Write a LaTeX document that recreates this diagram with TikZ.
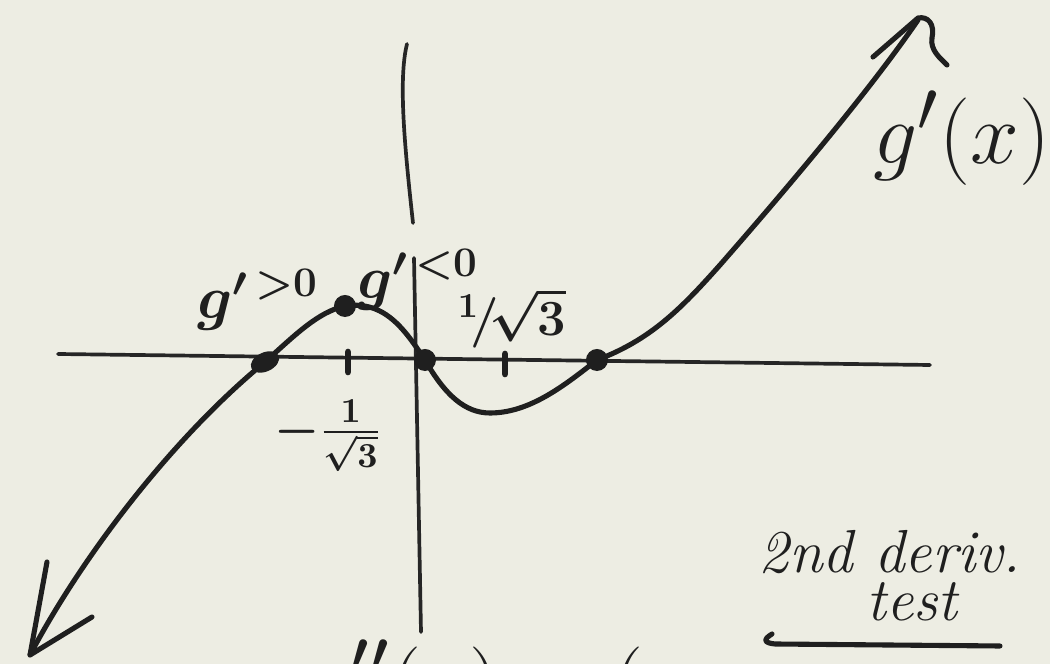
\documentclass[tikz,border=0pt]{standalone}
\usepackage{amsmath}
\usepackage{fontspec}
\usetikzlibrary{shapes.geometric}
\begin{document}
\begin{tikzpicture}[x=0.01cm,y=-0.01cm,
  ink/.style={line width=1.45pt,line cap=round,line join=round,color=black!88},
  thin/.style={line width=1.05pt,line cap=round,color=black!85},
  dotmark/.style={circle,fill=black!88,inner sep=0pt,minimum size=0.22cm},
  hand/.style={inner sep=1pt,text=black!88}]
\definecolor{paper}{RGB}{237,237,227}
\fill[paper] (0,0) rectangle (1050,664);
\useasboundingbox (0,0) rectangle (1050,664);
\clip (0,0) rectangle (1050,664);
% axes
\coordinate (xl) at (58,354);
\coordinate (xr) at (930,365);
\draw[thin] (xl) -- (xr);
\coordinate (yt) at (407,44);
\coordinate (ym) at (413,223);
\draw[thin] (yt) .. controls (398,80) and (405,150) .. (ym);
\coordinate (yb1) at (414,258);
\coordinate (yb2) at (421,632);
\draw[thin] (yb1) -- (yb2);
% ticks
\coordinate (t1a) at (348,352); \coordinate (t1b) at (348,372);
\coordinate (t2a) at (505,354); \coordinate (t2b) at (505,374);
\draw[ink,line width=1.9pt] (t1a) -- (t1b);
\draw[ink,line width=1.9pt] (t2a) -- (t2b);
% curve
\coordinate (c0) at (30,655);
\coordinate (d1) at (265,362);
\coordinate (d2) at (345,306);
\coordinate (d3) at (425,360);
\coordinate (mn) at (490,413);
\coordinate (d4) at (597,360);
\coordinate (c9) at (918,20);
\draw[ink] (c0) .. controls (80,560) and (170,440) .. (d1)
  .. controls (295,335) and (318,312) .. (d2)
  .. controls (385,300) and (405,330) .. (d3)
  .. controls (445,395) and (465,413) .. (mn)
  .. controls (530,413) and (565,385) .. (d4)
  .. controls (650,340) and (680,310) .. (720,265)
  .. controls (790,185) and (870,90) .. (c9);
% arrowheads
\coordinate (a1) at (47,562); \coordinate (a2) at (92,617);
\draw[ink] (a1) -- (c0) -- (a2);
\coordinate (b1) at (873,57); \coordinate (b2) at (947,65);
\draw[ink] (b1) -- (918,18) .. controls (928,16) and (935,24) .. (932,38) .. controls (930,50) and (940,58) .. (b2);
% dots
\node[dotmark,ellipse,minimum width=0.3cm,minimum height=0.19cm,rotate=25] (p1) at (d1) {};
\node[dotmark] (p2) at (d2) {};
\node[dotmark] (p3) at (d3) {};
\node[dotmark] (p4) at (d4) {};
% labels
\node[hand] (l1) at (258,300) {\LARGE $\boldsymbol{g^{\prime\,>0}}$};
\node[hand] (l2) at (418,280) {\LARGE $\boldsymbol{g^{\prime\,<0}}$};
\node[hand] (l3) at (512,318) {\Large $\boldsymbol{{}^1\!/\!\sqrt{3}}$};
\node[hand] (l4) at (328,436) {\Large $\boldsymbol{-\frac{1}{\sqrt{3}}}$};
\node[hand] (l5) at (962,138) {\Huge $g'(x)$};
\node[hand] (l6) at (890,552) {\LARGE\itshape 2nd deriv.};
\node[hand] (l6b) at (912,602) {\LARGE\itshape test};
\coordinate (u1) at (762,643); \coordinate (u2) at (1000,646);
\draw[ink] (u2) -- (775,644) .. controls (765,643) and (762,640) .. (772,634);
\node[hand,anchor=north west] (l7) at (300,636) {\Huge $g''(x)=(x$};
\end{tikzpicture}
\end{document}
